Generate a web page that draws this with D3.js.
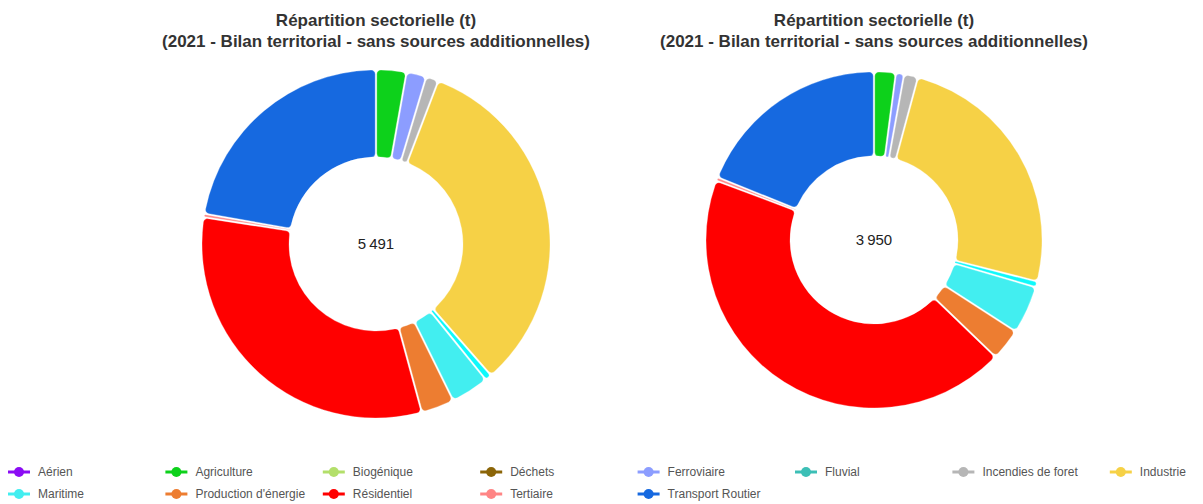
<!DOCTYPE html>
<html>
<head>
<meta charset="utf-8">
<script src="https://cdn.jsdelivr.net/npm/d3@7"></script>
<style>
  body { margin: 0; background: #fff; }
  svg { font-family: "Liberation Sans", Arial, sans-serif; }
</style>
</head>
<body>
<div id="chart"></div>
<script>
// Sectors, in drawing order (clockwise from top)
const sectors = ["Agriculture", "Ferroviaire", "Incendies de foret", "Industrie", "Autre maritime",
    "Maritime", "Production d'énergie", "Résidentiel", "Tertiaire", "Transport Routier"];

// Values (t) read from the two donuts
const valuesLeft = [154, 101, 64, 1798, 34, 194, 168, 1740, 18, 1220];
const valuesRight = [82, 31, 53, 978, 22, 182, 121, 1720, 13, 748];

const titleLines = ["Répartition sectorielle (t)", "(2021 - Bilan territorial - sans sources additionnelles)"];

// Legend entries
const legendNames = ["Aérien", "Agriculture", "Biogénique", "Déchets", "Ferroviaire", "Fluvial",
    "Incendies de foret", "Industrie", "Maritime", "Production d'énergie", "Résidentiel", "Tertiaire",
    "Transport Routier"];

const colors = {
    "Aérien": "#8b0cf4",
    "Agriculture": "#0dd11b",
    "Biogénique": "#b3df6a",
    "Déchets": "#8b6508",
    "Ferroviaire": "#8c9dff",
    "Fluvial": "#3cbfb6",
    "Incendies de foret": "#b6b6b6",
    "Industrie": "#f6d146",
    "Autre maritime": "#0ff9fb",
    "Maritime": "#42eef0",
    "Production d'énergie": "#ed7d31",
    "Résidentiel": "#ff0000",
    "Tertiaire": "#ff8585",
    "Transport Routier": "#1669e0"
};

const width = 1203, height = 504;

const svg = d3.select("#chart")
    .append("svg")
    .attr("width", width)
    .attr("height", height);

const fmt = d3.formatLocale({ decimal: ",", thousands: "\u202f", grouping: [3], currency: ["", " €"] }).format(",d");

const pie = d3.pie()
    .sort(null)
    .value(d => d.value);

function drawDonut(values, cx, cy, outer, inner) {
    const data = sectors.map((s, i) => ({ name: s, value: values[i] }));

    const arc = d3.arc()
        .innerRadius(inner)
        .outerRadius(outer)
        .padAngle(0.008)
        .cornerRadius(4);

    const g = svg.append("g")
        .attr("transform", `translate(${cx},${cy})`);

    g.selectAll("path")
        .data(pie(data))
        .enter()
        .append("path")
        .attr("d", arc)
        .attr("fill", d => colors[d.data.name])
        .attr("stroke", "#fff")
        .attr("stroke-width", 0.3);

    // Total in the middle
    g.append("text")
        .attr("text-anchor", "middle")
        .attr("dy", "0.35em")
        .attr("font-size", 15)
        .attr("fill", "#222")
        .text(fmt(d3.sum(values)));

    // Title, two lines
    svg.append("g")
        .selectAll("text")
        .data(titleLines)
        .enter()
        .append("text")
        .attr("x", cx)
        .attr("y", (d, i) => 26 + i * 21)
        .attr("text-anchor", "middle")
        .attr("font-size", 17)
        .attr("font-weight", "bold")
        .attr("fill", "#333")
        .text(d => d);
}

drawDonut(valuesLeft, 376, 244, 174, 87);
drawDonut(valuesRight, 874, 240, 168, 84);

// Legend: 8 columns, 2 rows
const perRow = 8;
const legend = svg.selectAll(".legend")
    .data(legendNames)
    .enter()
    .append("g")
    .attr("class", "legend")
    .attr("transform", (d, i) => `translate(${8 + (i % perRow) * 157.4}, ${472 + Math.floor(i / perRow) * 22})`);

legend.append("line")
    .attr("x1", 0)
    .attr("x2", 22)
    .attr("stroke", d => colors[d])
    .attr("stroke-width", 3);

legend.append("circle")
    .attr("cx", 11)
    .attr("r", 5)
    .attr("fill", d => colors[d]);

legend.append("text")
    .attr("x", 30)
    .attr("dy", "0.35em")
    .attr("font-size", 12)
    .attr("fill", "#555")
    .text(d => d);
</script>
</body>
</html>
